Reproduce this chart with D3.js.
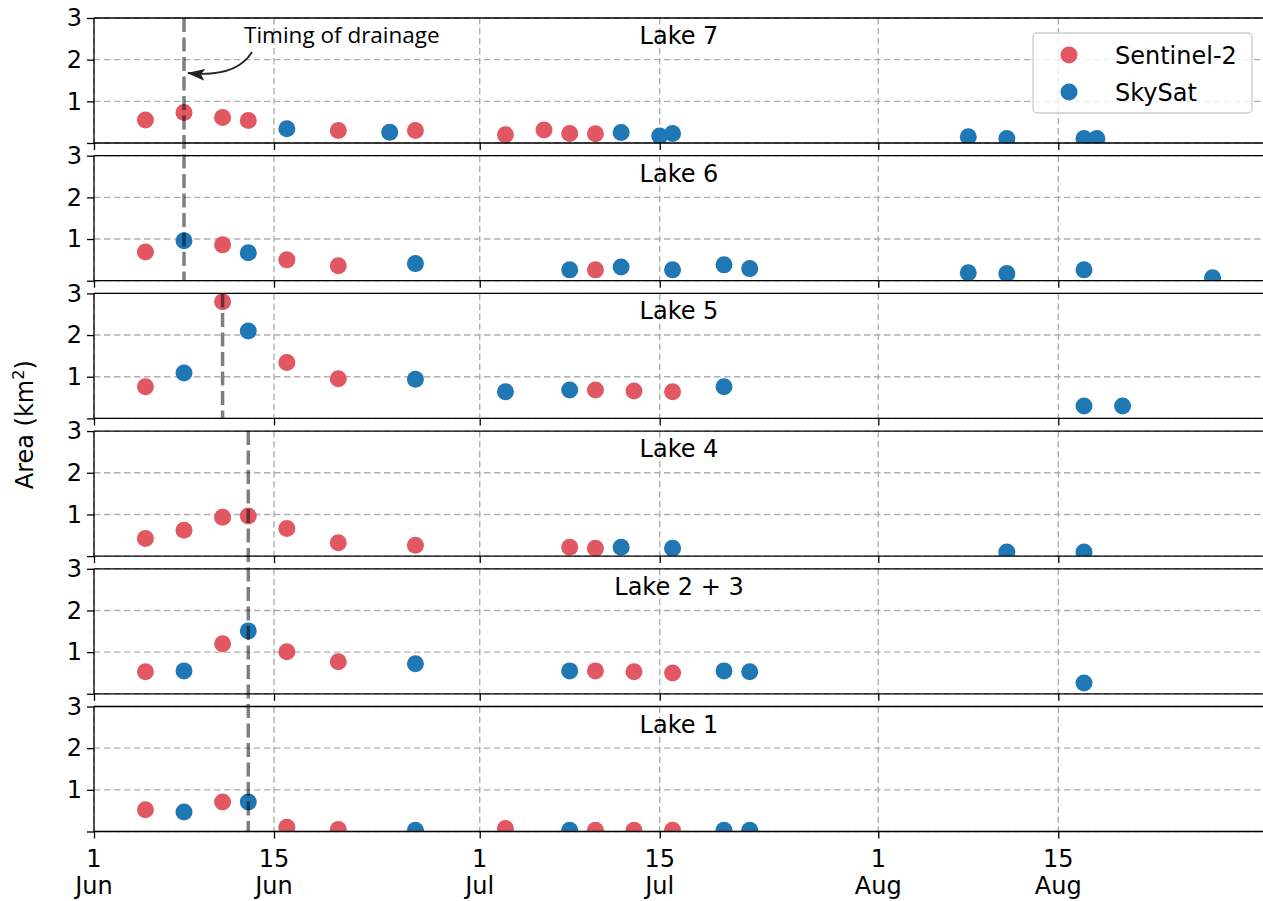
<!doctype html>
<html lang="en">
<head>
<meta charset="UTF-8">
<title>Lake area</title>
<style>
  html, body { margin: 0; padding: 0; background: #fff; }
  svg { display: block; font-family: 'DejaVu Sans', sans-serif; }
</style>
</head>
<body>
<svg width="1263" height="901"></svg>
<script src="https://d3js.org/d3.v7.min.js"></script>
<script>
  // panel titles, top to bottom
  const lakes = ['Lake 7', 'Lake 6', 'Lake 5', 'Lake 4', 'Lake 2 + 3', 'Lake 1']

  // [month-day, area km2]
  const lake7S2 = [['06-05', 0.55], ['06-08', 0.73], ['06-11', 0.61], ['06-13', 0.54], ['06-20', 0.30], ['06-26', 0.30],
    ['07-03', 0.20], ['07-06', 0.31], ['07-08', 0.23], ['07-10', 0.22]]
  const lake7Sky = [['06-16', 0.34], ['06-24', 0.26], ['07-12', 0.25], ['07-15', 0.17], ['07-16', 0.23],
    ['08-08', 0.15], ['08-11', 0.11], ['08-17', 0.11], ['08-18', 0.11]]

  const lake6S2 = [['06-05', 0.69], ['06-11', 0.86], ['06-16', 0.50], ['06-20', 0.36], ['07-10', 0.26]]
  const lake6Sky = [['06-08', 0.96], ['06-13', 0.67], ['06-26', 0.41], ['07-08', 0.26], ['07-12', 0.33], ['07-16', 0.26],
    ['07-20', 0.38], ['07-22', 0.29], ['08-08', 0.19], ['08-11', 0.17], ['08-17', 0.26], ['08-27', 0.07]]

  const lake5S2 = [['06-05', 0.76], ['06-11', 2.80], ['06-16', 1.34], ['06-20', 0.95], ['07-10', 0.68], ['07-13', 0.66], ['07-16', 0.64]]
  const lake5Sky = [['06-08', 1.09], ['06-13', 2.10], ['06-26', 0.94], ['07-03', 0.64], ['07-08', 0.68], ['07-20', 0.76],
    ['08-17', 0.30], ['08-20', 0.30]]

  const lake4S2 = [['06-05', 0.42], ['06-08', 0.62], ['06-11', 0.93], ['06-13', 0.96], ['06-16', 0.66], ['06-20', 0.32],
    ['06-26', 0.26], ['07-08', 0.21], ['07-10', 0.19]]
  const lake4Sky = [['07-12', 0.21], ['07-16', 0.19], ['08-11', 0.10], ['08-17', 0.10]]

  const lake23S2 = [['06-05', 0.53], ['06-11', 1.20], ['06-16', 1.01], ['06-20', 0.77], ['07-10', 0.55], ['07-13', 0.53], ['07-16', 0.50]]
  const lake23Sky = [['06-08', 0.55], ['06-13', 1.51], ['06-26', 0.72], ['07-08', 0.55], ['07-20', 0.55], ['07-22', 0.53], ['08-17', 0.26]]

  const lake1S2 = [['06-05', 0.52], ['06-11', 0.71], ['06-16', 0.10], ['06-20', 0.05], ['07-03', 0.07], ['07-10', 0.03],
    ['07-13', 0.03], ['07-16', 0.03]]
  const lake1Sky = [['06-08', 0.47], ['06-13', 0.71], ['06-26', 0.03], ['07-08', 0.03], ['07-20', 0.03], ['07-22', 0.03]]

  const sentinel = [lake7S2, lake6S2, lake5S2, lake4S2, lake23S2, lake1S2]
  const skysat = [lake7Sky, lake6Sky, lake5Sky, lake4Sky, lake23Sky, lake1Sky]

  // drainage date, first and last panel index it spans
  const drainage = [['06-08', 0, 1], ['06-11', 2, 2], ['06-13', 3, 5]]

  const xTicks = ['06-01', '06-15', '07-01', '07-15', '08-01', '08-15']
  const yTicks = [0, 1, 2, 3]
  const seriesNames = ['Sentinel-2', 'SkySat']

  const red = '#e15863'
  const blue = '#1f77b4'
  const year = 2019
  const parse = s => new Date(year, +s.slice(0, 2) - 1, +s.slice(3))

  const svg = d3.select('svg')
  const left = 94, right = 1264
  const panelTop = 18, panelH = 125, pitch = 137.7

  const x = d3.scaleTime()
    .domain([parse('06-01'), parse('08-31')])
    .range([left, right])

  const defs = svg.append('defs')
  defs.append('marker')
    .attr('id', 'arrowhead')
    .attr('viewBox', '0 0 18 12')
    .attr('refX', 17).attr('refY', 6)
    .attr('markerWidth', 18).attr('markerHeight', 12)
    .attr('markerUnits', 'userSpaceOnUse')
    .attr('orient', 'auto')
    .append('path')
    .attr('d', 'M0,0 L18,6 L0,12 L4,6 Z')
    .attr('fill', '#222')

  const panels = []

  lakes.forEach((name, i) => {
    const top = panelTop + i * pitch
    const y = d3.scaleLinear().domain([0, 3]).range([top + panelH, top])
    panels.push({ top, y })

    const g = svg.append('g').attr('class', 'panel')

    defs.append('clipPath').attr('id', 'clip' + i)
      .append('rect')
      .attr('x', left).attr('y', top)
      .attr('width', right - left).attr('height', panelH)

    // grid
    g.append('g').selectAll('line.gy')
      .data(yTicks)
      .join('line')
      .attr('x1', left).attr('x2', right)
      .attr('y1', d => y(d)).attr('y2', d => y(d))
      .attr('stroke', '#b0b0b0').attr('stroke-width', 1.4)
      .attr('stroke-dasharray', '6.5,3.5')

    g.append('g').selectAll('line.gx')
      .data(xTicks)
      .join('line')
      .attr('x1', d => x(parse(d))).attr('x2', d => x(parse(d)))
      .attr('y1', top).attr('y2', top + panelH)
      .attr('stroke', '#b0b0b0').attr('stroke-width', 1.4)
      .attr('stroke-dasharray', '6.5,3.5')

    // points
    const pts = g.append('g').attr('clip-path', `url(#clip${i})`)
    pts.selectAll('circle.s2')
      .data(sentinel[i])
      .join('circle')
      .attr('cx', d => x(parse(d[0])))
      .attr('cy', d => y(d[1]))
      .attr('r', 8.5)
      .attr('fill', red)
    pts.selectAll('circle.sky')
      .data(skysat[i])
      .join('circle')
      .attr('cx', d => x(parse(d[0])))
      .attr('cy', d => y(d[1]))
      .attr('r', 8.5)
      .attr('fill', blue)

    // axes
    const yAxis = d3.axisLeft(y)
      .tickValues(yTicks)
      .tickSize(7)
      .tickPadding(5)
      .tickFormat(d => d === 0 ? '' : d)
    const ya = g.append('g')
      .attr('transform', `translate(${left},0)`)
      .call(yAxis)
    ya.select('.domain').remove()

    const xAxis = d3.axisBottom(x)
      .tickValues(xTicks.map(parse))
      .tickSize(7)
      .tickFormat('')
    const xa = g.append('g')
      .attr('transform', `translate(0,${top + panelH})`)
      .call(xAxis)
    xa.select('.domain').remove()

    g.selectAll('.tick line').attr('stroke', '#000').attr('stroke-width', 1.3)
    g.selectAll('.tick text').attr('font-size', 24).attr('font-family', 'DejaVu Sans').attr('fill', '#000')

    // spines
    g.append('line').attr('x1', left).attr('x2', left).attr('y1', top).attr('y2', top + panelH)
      .attr('stroke', '#000').attr('stroke-width', 1.3)
    g.append('line').attr('x1', left).attr('x2', right).attr('y1', top).attr('y2', top)
      .attr('stroke', '#000').attr('stroke-width', 1.3)
    g.append('line').attr('x1', left).attr('x2', right).attr('y1', top + panelH).attr('y2', top + panelH)
      .attr('stroke', '#000').attr('stroke-width', 1.3)

    g.append('text')
      .attr('x', (left + right) / 2)
      .attr('y', top + 26)
      .attr('text-anchor', 'middle')
      .attr('font-size', 24)
      .text(name)
  })

  // drainage timing lines
  svg.append('g').selectAll('line')
    .data(drainage)
    .join('line')
    .attr('x1', d => x(parse(d[0]))).attr('x2', d => x(parse(d[0])))
    .attr('y1', d => panels[d[1]].top)
    .attr('y2', d => panels[d[2]].top + panelH)
    .attr('stroke', '#000').attr('stroke-opacity', 0.5)
    .attr('stroke-width', 3.5)
    .attr('stroke-dasharray', '14,5.5')

  // annotation
  svg.append('text')
    .attr('x', 244).attr('y', 43)
    .attr('font-family', "'Open Sans', sans-serif")
    .attr('font-size', 22.5)
    .text('Timing of drainage')
  svg.append('path')
    .attr('d', 'M252,52 Q236,78 188,73')
    .attr('fill', 'none')
    .attr('stroke', '#222').attr('stroke-width', 1.8)
    .attr('marker-end', 'url(#arrowhead)')

  // bottom tick labels
  const bottom = panels[5].top + panelH
  const lab = svg.append('g')
  xTicks.forEach(t => {
    const d = parse(t)
    const tx = lab.append('text')
      .attr('x', x(d))
      .attr('text-anchor', 'middle')
      .attr('font-size', 24)
    tx.append('tspan').attr('x', x(d)).attr('y', bottom + 35).text(d.getDate())
    tx.append('tspan').attr('x', x(d)).attr('y', bottom + 62).text(d3.timeFormat('%b')(d))
  })

  // y label
  const yl = svg.append('text')
    .attr('transform', `translate(33,${(panels[0].top + bottom) / 2}) rotate(-90)`)
    .attr('text-anchor', 'middle')
    .attr('font-size', 24)
  yl.append('tspan').text('Area (km')
  yl.append('tspan').attr('font-size', 16).attr('dy', -9).text('2')
  yl.append('tspan').attr('dy', 9).text(')')

  // legend
  const lg = svg.append('g').attr('transform', 'translate(1033,33)')
  lg.append('rect')
    .attr('width', 219).attr('height', 80).attr('rx', 4)
    .attr('fill', '#fff').attr('fill-opacity', 0.8)
    .attr('stroke', '#cccccc').attr('stroke-width', 1.3)
  seriesNames.forEach((s, i) => {
    lg.append('circle')
      .attr('cx', 36).attr('cy', 22 + i * 37)
      .attr('r', 8.5)
      .attr('fill', i === 0 ? red : blue)
    lg.append('text')
      .attr('x', 82).attr('y', 22 + i * 37)
      .attr('dy', '0.36em')
      .attr('font-size', 24)
      .text(s)
  })
</script>
</body>
</html>
